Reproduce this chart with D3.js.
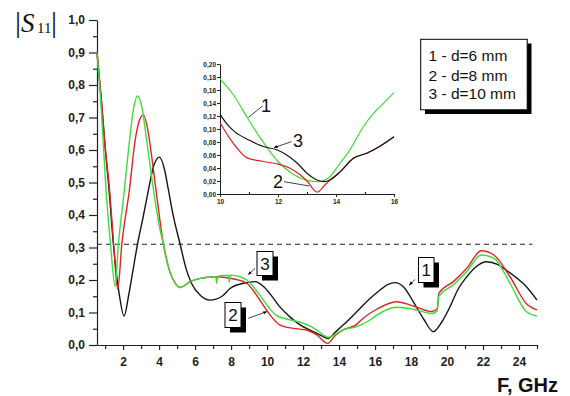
<!DOCTYPE html>
<html><head><meta charset="utf-8">
<script src="https://cdn.jsdelivr.net/npm/d3@7"></script>
<style>body{margin:0;background:#fff}svg{display:block}</style>
</head><body><svg id="c" width="570" height="396"></svg>
<script>
// ---------- data ----------
const yTicks = [0,0.1,0.2,0.3,0.4,0.5,0.6,0.7,0.8,0.9,1.0];
const yTickLabels = ["0,0","0,1","0,2","0,3","0,4","0,5","0,6","0,7","0,8","0,9","1,0"];
const yMinorTicks = [0.05,0.15,0.25,0.35,0.45,0.55,0.65,0.75,0.85,0.95];
const xTicks = [2,4,6,8,10,12,14,16,18,20,22,24];
const xTickLabels = ["2","4","6","8","10","12","14","16","18","20","22","24"];
const xMinorTicks = [1,3,5,7,9,11,13,15,17,19,21,23,25];
const insetYTicks = [0,0.02,0.04,0.06,0.08,0.10,0.12,0.14,0.16,0.18,0.20];
const insetYTickLabels = ["0,00","0,02","0,04","0,06","0,08","0,10","0,12","0,14","0,16","0,18","0,20"];
const insetXTicks = [10,12,14,16];
const insetXTickLabels = ["10","12","14","16"];
const insetXMinor = [11,13,15];
const legendLabels = ["1 - d=6 mm","2 - d=8 mm","3 - d=10 mm"];
const threshold = 0.31;

// main chart curves: [F (GHz), |S11|]
const mainBlack = [[0.55,0.9],[0.8,0.75],[1.0,0.61],[1.22,0.477],[1.46,0.31],[1.75,0.17],[2.06,0.089],[2.3,0.15],[2.55,0.23],[2.8,0.31],[3.1,0.39],[3.41,0.477],[3.69,0.549],[4.02,0.578],[4.3,0.54],[4.52,0.477],[4.76,0.405],[5.17,0.31],[5.5,0.235],[5.8,0.19],[6.3,0.152],[6.83,0.138],[7.5,0.15],[7.94,0.174],[8.7,0.19],[9.33,0.195],[9.8,0.18],[10.2,0.155],[10.7,0.118],[11.3,0.085],[11.83,0.062],[12.57,0.041],[13.04,0.028],[13.4,0.02],[13.8,0.04],[14.24,0.062],[14.98,0.102],[15.72,0.143],[16.3,0.17],[16.7,0.186],[17.1,0.192],[17.6,0.178],[18.13,0.133],[18.7,0.08],[19.24,0.041],[19.7,0.07],[20.17,0.118],[20.6,0.17],[21.1,0.21],[21.6,0.24],[22.2,0.256],[22.8,0.248],[23.3,0.23],[23.9,0.205],[24.4,0.18],[25.0,0.138]];
const mainRed = [[0.55,0.9],[0.8,0.745],[1.0,0.61],[1.25,0.477],[1.45,0.33],[1.7,0.171],[1.93,0.31],[2.35,0.477],[2.67,0.63],[2.9,0.69],[3.13,0.708],[3.41,0.65],[3.59,0.58],[3.83,0.477],[4.24,0.31],[4.6,0.225],[4.9,0.19],[5.17,0.177],[5.72,0.195],[6.3,0.205],[7.0,0.21],[7.9,0.206],[8.87,0.19],[9.2,0.17],[9.6,0.138],[10.17,0.092],[10.7,0.062],[11.46,0.051],[12.2,0.046],[12.76,0.031],[13.37,0.005],[13.8,0.03],[14.2,0.046],[14.95,0.062],[15.17,0.074],[16.1,0.11],[17.2,0.133],[18.13,0.12],[19.15,0.103],[19.45,0.112],[19.55,0.16],[20.35,0.195],[21.1,0.236],[21.9,0.29],[22.6,0.277],[23.5,0.21],[24.4,0.128],[25.0,0.108]];
const mainGreen = [[0.55,0.9],[0.75,0.76],[1.05,0.477],[1.3,0.31],[1.56,0.18],[1.74,0.31],[2.07,0.477],[2.3,0.6],[2.54,0.713],[2.8,0.766],[3.04,0.733],[3.31,0.63],[3.69,0.477],[4.0,0.37],[4.24,0.31],[4.6,0.225],[4.9,0.19],[5.17,0.177],[5.72,0.195],[6.3,0.205],[7.15,0.21],[7.2,0.19],[7.25,0.211],[7.85,0.215],[7.9,0.193],[7.95,0.215],[8.5,0.21],[8.87,0.2],[9.3,0.175],[9.8,0.138],[10.2,0.108],[10.5,0.092],[11.3,0.077],[12.02,0.067],[12.4,0.058],[12.76,0.046],[13.4,0.024],[14.2,0.046],[14.95,0.056],[15.72,0.077],[16.1,0.092],[17.2,0.116],[18.13,0.11],[19.15,0.097],[19.45,0.105],[19.55,0.15],[20.35,0.185],[21.1,0.226],[21.9,0.277],[22.6,0.267],[23.5,0.19],[24.4,0.103],[25.0,0.089]];

// inset curves (10–16 GHz)
const insetGreen = [[10,0.177],[10.5,0.15],[10.92,0.119],[11.3,0.092],[11.6,0.073],[12,0.05],[12.5,0.031],[13,0.021],[13.4,0.019],[13.79,0.0266],[14.1,0.045],[14.48,0.068],[14.94,0.1035],[15.29,0.124],[15.6,0.138],[16.0,0.156]];
const insetBlack = [[10,0.123],[10.25,0.107],[10.5,0.096],[11,0.083],[11.5,0.073],[11.96,0.068],[12.3,0.06],[12.65,0.048],[13,0.032],[13.35,0.0215],[13.6,0.019],[13.79,0.0215],[14.14,0.034],[14.6,0.055],[15.06,0.0626],[15.5,0.073],[16.0,0.088]];
const insetRed = [[10,0.11],[10.3,0.088],[10.6,0.07],[10.92,0.056],[11.5,0.05],[12,0.046],[12.4,0.04],[12.75,0.03],[13.0,0.02],[13.35,0.003],[13.6,0.013],[13.79,0.0215],[14.14,0.034],[14.6,0.055],[15.06,0.0626],[15.5,0.073],[16.0,0.088]];

// ---------- drawing ----------
const svg = d3.select("#c");
const BLACK = "#151515", RED = "#dd2424", GREEN = "#3ddc3d";
const F = "Liberation Sans, Arial, sans-serif";

svg.append("defs").append("marker").attr("id","ah").attr("viewBox","0 0 10 10")
  .attr("refX",9).attr("refY",5).attr("markerWidth",5).attr("markerHeight",5).attr("orient","auto")
  .append("path").attr("d","M0,1 L10,5 L0,9 Z").attr("fill","#000");

const x = d3.scaleLinear().domain([0.55,25]).range([97,537]);
const y = d3.scaleLinear().domain([0,1]).range([345,20]);

// y axis
const gy = svg.append("g").attr("transform","translate(97,0)")
  .call(d3.axisLeft(y).tickValues(yTicks).tickSize(8).tickSizeOuter(0).tickFormat((d,i)=>yTickLabels[i]));
gy.selectAll("text").attr("font-family",F).attr("font-weight","bold").attr("font-size",12).attr("fill","#222").attr("x",-12);
svg.append("g").attr("transform","translate(97,0)")
  .call(d3.axisLeft(y).tickValues(yMinorTicks).tickSize(4).tickSizeOuter(0).tickFormat(""))
  .select(".domain").remove();

// x axis
const gx = svg.append("g").attr("transform","translate(0,345)")
  .call(d3.axisBottom(x).tickValues(xTicks).tickSize(5).tickSizeOuter(0).tickFormat((d,i)=>xTickLabels[i]));
gx.selectAll("text").attr("font-family",F).attr("font-weight","bold").attr("font-size",12).attr("fill","#222").attr("y",12);
svg.append("g").attr("transform","translate(0,345)")
  .call(d3.axisBottom(x).tickValues(xMinorTicks).tickSize(4).tickSizeOuter(0).tickFormat(""))
  .select(".domain").remove();
svg.selectAll(".domain, .tick line").attr("stroke","#222").attr("stroke-width",1.2);

// threshold line
svg.append("line").attr("x1",x(0.55)).attr("x2",x(24.75)).attr("y1",y(threshold)).attr("y2",y(threshold))
  .attr("stroke","#222").attr("stroke-width",1).attr("stroke-dasharray","5,4");

// main curves
const line = d3.line().x(d=>x(d[0])).y(d=>y(d[1])).curve(d3.curveMonotoneX);
[[mainBlack,BLACK],[mainRed,RED],[mainGreen,GREEN]].forEach(([d,c])=>{
  svg.append("path").datum(d).attr("d",line).attr("fill","none").attr("stroke",c).attr("stroke-width",1.4);
});

// inset
const xi = d3.scaleLinear().domain([10,16]).range([220,394]);
const yi = d3.scaleLinear().domain([0,0.2]).range([194,64]);
const giy = svg.append("g").attr("transform","translate(220,0)")
  .call(d3.axisLeft(yi).tickValues(insetYTicks).tickSize(3).tickSizeOuter(0).tickFormat((d,i)=>insetYTickLabels[i]));
giy.selectAll("text").attr("font-family",F).attr("font-weight","bold").attr("font-size",6.5).attr("fill","#222").attr("x",-4);
const gix = svg.append("g").attr("transform","translate(0,194)")
  .call(d3.axisBottom(xi).tickValues(insetXTicks).tickSize(3).tickSizeOuter(0).tickFormat((d,i)=>insetXTickLabels[i]));
gix.selectAll("text").attr("font-family",F).attr("font-weight","bold").attr("font-size",6.5).attr("fill","#222").attr("y",5);
svg.append("g").attr("transform","translate(0,194)")
  .call(d3.axisTop(xi).tickValues(insetXMinor).tickSize(2).tickSizeOuter(0).tickFormat(""))
  .select(".domain").remove();
giy.selectAll(".domain, .tick line").attr("stroke","#222").attr("stroke-width",1);
gix.selectAll(".domain, .tick line").attr("stroke","#222").attr("stroke-width",1);

const linei = d3.line().x(d=>xi(d[0])).y(d=>yi(d[1])).curve(d3.curveMonotoneX);
[[insetGreen,GREEN],[insetRed,RED],[insetBlack,BLACK]].forEach(([d,c])=>{
  svg.append("path").datum(d).attr("d",linei).attr("fill","none").attr("stroke",c).attr("stroke-width",1.2);
});

// inset annotations
function lbl(t,xx,yy,fs){ svg.append("text").attr("x",xx).attr("y",yy).attr("text-anchor","middle")
  .attr("font-family",F).attr("font-size",fs).attr("fill","#111").text(t); }
lbl("1",266,111.5,18); lbl("3",298,146.5,18); lbl("2",278,188,18);
function lead(x1,y1,x2,y2,arrow){ const l=svg.append("line").attr("x1",x1).attr("y1",y1).attr("x2",x2).attr("y2",y2)
  .attr("stroke","#111").attr("stroke-width",0.8); if(arrow) l.attr("marker-end","url(#ah)"); }
lead(262.5,106,248.3,117.5,false);
lead(291.5,141.7,274.3,147.5,true);
lead(284,181.7,309.3,186,false);

// main boxed labels
function box(t,x0,y0,w,h){
  svg.append("rect").attr("x",x0+5).attr("y",y0+5).attr("width",w).attr("height",h).attr("fill","#000");
  svg.append("rect").attr("x",x0).attr("y",y0).attr("width",w).attr("height",h).attr("fill","#fff").attr("stroke","#000").attr("stroke-width",1);
  svg.append("text").attr("x",x0+w/2).attr("y",y0+h/2+6).attr("text-anchor","middle").attr("font-family",F).attr("font-size",17).attr("fill","#111").text(t);
}
box("3",257,251.5,16,24);
box("2",225,302.5,16,25);
box("1",418.5,257.5,15.5,25);
lead(255,268.5,248.3,274.5,true);
lead(248.3,318.3,266.7,311.7,true);
lead(415,279.5,409.3,285,true);

// legend
svg.append("rect").attr("x",425).attr("y",43.5).attr("width",106.5).attr("height",70.5).attr("fill","#000");
svg.append("rect").attr("x",420.7).attr("y",39.3).attr("width",106.5).attr("height",70.5).attr("fill","#fff").attr("stroke","#000").attr("stroke-width",1);
legendLabels.forEach((t,i)=>{
  svg.append("text").attr("x",428.5).attr("y",[60.7,80.5,99][i]).attr("font-family",F).attr("font-size",15.5).attr("fill","#111").text(t);
});

// axis titles
svg.append("text").attr("x",558).attr("y",392).attr("text-anchor","end").attr("font-family",F)
  .attr("font-weight","bold").attr("font-size",20).attr("fill","#111").text("F, GHz");
const SF = "Liberation Serif, Times New Roman, serif";
svg.append("text").attr("x",15).attr("y",32).attr("font-family",SF).attr("font-size",30).attr("fill","#111").text("|");
svg.append("text").attr("x",21).attr("y",32).attr("font-family",SF).attr("font-style","italic").attr("font-size",27).attr("fill","#111").text("S");
svg.append("text").attr("x",37).attr("y",33).attr("font-family",SF).attr("font-size",15).attr("fill","#111").text("11");
svg.append("text").attr("x",51).attr("y",32).attr("font-family",SF).attr("font-size",30).attr("fill","#111").text("|");
</script></body></html>
